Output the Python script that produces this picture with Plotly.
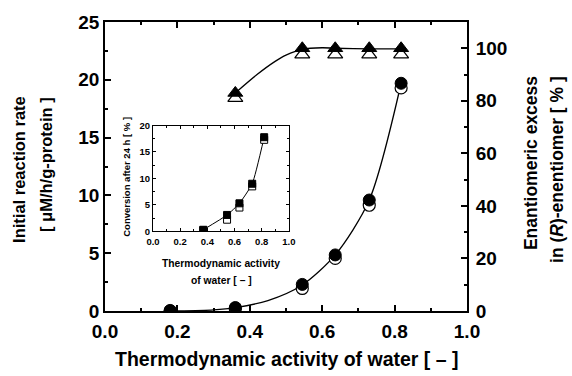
import plotly.graph_objects as go

# Main plot data
aw = [0.18, 0.36, 0.545, 0.636, 0.73, 0.818]
rate_filled = [0.05, 0.3, 2.3, 4.85, 9.6, 19.7]
rate_open = [0.0, 0.2, 1.95, 4.55, 9.15, 19.3]
rate_fit_x = [0.20, 0.30, 0.36, 0.45, 0.545, 0.636, 0.73, 0.818]
rate_fit_y = [0.0, 0.1, 0.3, 0.9, 2.25, 4.85, 9.6, 19.7]

aw_ee = [0.36, 0.545, 0.636, 0.73, 0.818]
ee_filled = [83.0, 100.0, 100.0, 100.0, 100.0]
ee_open = [81.0, 97.6, 97.6, 97.6, 97.6]
ee_fit_x = [0.36, 0.42, 0.47, 0.50, 0.545, 0.60, 0.636, 0.73, 0.818]
ee_fit_y = [83.0, 90.0, 95.0, 97.4, 99.6, 100.2, 100.0, 99.8, 99.8]

# Inset data
aw_in = [0.37, 0.545, 0.636, 0.73, 0.818]
conv_filled = [0.3, 3.1, 5.3, 9.0, 17.8]
conv_open = [0.2, 2.2, 4.5, 8.5, 17.3]

FONT = "Liberation Sans"
fig = go.Figure()

# rate curve + markers
fig.add_trace(go.Scatter(x=rate_fit_x, y=rate_fit_y, mode="lines", line=dict(color="black", width=1.3, shape="spline", smoothing=0.8), xaxis="x", yaxis="y", showlegend=False))
fig.add_trace(go.Scatter(x=aw, y=rate_open, mode="markers", marker=dict(symbol="circle", size=12, color="white", line=dict(color="black", width=1.2)), xaxis="x", yaxis="y", showlegend=False))
fig.add_trace(go.Scatter(x=aw, y=rate_filled, mode="markers", marker=dict(symbol="circle", size=12, color="black", line=dict(color="black", width=1)), xaxis="x", yaxis="y", showlegend=False))

# ee curve + markers
fig.add_trace(go.Scatter(x=ee_fit_x, y=ee_fit_y, mode="lines", line=dict(color="black", width=1.3, shape="spline", smoothing=0.8), xaxis="x", yaxis="y2", showlegend=False))
fig.add_trace(go.Scatter(x=aw_ee, y=ee_open, mode="markers", marker=dict(symbol="triangle-up", size=13, color="white", line=dict(color="black", width=1.2)), xaxis="x", yaxis="y2", showlegend=False))
fig.add_trace(go.Scatter(x=aw_ee, y=ee_filled, mode="markers", marker=dict(symbol="triangle-up", size=13, color="black", line=dict(color="black", width=1)), xaxis="x", yaxis="y2", showlegend=False))

# inset
fig.add_trace(go.Scatter(x=aw_in, y=conv_filled, mode="lines", line=dict(color="black", width=1, shape="spline", smoothing=0.5), xaxis="x2", yaxis="y3", showlegend=False))
fig.add_trace(go.Scatter(x=aw_in, y=conv_open, mode="markers", marker=dict(symbol="square", size=7, color="white", line=dict(color="black", width=1)), xaxis="x2", yaxis="y3", showlegend=False))
fig.add_trace(go.Scatter(x=aw_in, y=conv_filled, mode="markers", marker=dict(symbol="square", size=7, color="black", line=dict(color="black", width=1)), xaxis="x2", yaxis="y3", showlegend=False))

tickfont_main = dict(family=FONT, size=19, color="black", weight="bold")
tickfont_in = dict(family=FONT, size=9.5, color="black", weight="bold")
common = dict(showgrid=False, zeroline=False, showline=True, linecolor="black", ticks="inside", tickcolor="black")

fig.update_layout(
    width=572, height=376,
    margin=dict(l=105, r=105, t=16, b=65),
    paper_bgcolor="white", plot_bgcolor="white",
    xaxis=dict(**common, domain=[0, 1], range=[0, 1], dtick=0.2, tick0=0, tickformat=".1f", linewidth=1.8, tickwidth=1.5, ticklen=6,
               minor=dict(dtick=0.1, ticklen=3, tickcolor="black", ticks="inside"), mirror="ticks", tickfont=tickfont_main, anchor="y",
               ticklabelstandoff=2),
    yaxis=dict(**common, domain=[0, 1], range=[0, 25], dtick=5, linewidth=1.8, tickwidth=1.5, ticklen=6,
               minor=dict(dtick=2.5, ticklen=3, tickcolor="black", ticks="inside"), tickfont=tickfont_main, anchor="x"),
    yaxis2=dict(**common, overlaying="y", side="right", range=[0, 110], tickvals=[0, 20, 40, 60, 80, 100], linewidth=1.8, tickwidth=1.5, ticklen=6,
                minor=dict(tickvals=[10, 30, 50, 70, 90, 110], ticklen=3, tickcolor="black", ticks="inside"), tickfont=tickfont_main, anchor="x",
                ticklabelstandoff=3),
    xaxis2=dict(**common, domain=[0.1326, 0.508], range=[0, 1], dtick=0.2, tick0=0, tickformat=".1f", linewidth=1, tickwidth=1, ticklen=3,
                minor=dict(dtick=0.1, ticklen=2, tickcolor="black", ticks="inside"), mirror="ticks", tickfont=tickfont_in, anchor="y3", ticklabelstandoff=1),
    yaxis3=dict(**common, domain=[0.2756, 0.6417], range=[0, 20], dtick=5, linewidth=1, tickwidth=1, ticklen=3,
                minor=dict(dtick=2.5, ticklen=2, tickcolor="black", ticks="inside"), mirror="ticks", tickfont=tickfont_in, anchor="x2"),
)

def px2paper(px, py):
    return (px - 105) / 362.0, (311 - py) / 295.0

def add_text(text, px, py, size, angle=0):
    x, y = px2paper(px, py)
    fig.add_annotation(text=text, x=x, y=y, xref="paper", yref="paper", showarrow=False, textangle=angle,
                       xanchor="center", yanchor="middle", font=dict(family=FONT, size=size, color="black", weight="bold"))

add_text("Initial reaction rate", 19, 167, 16.5, -90)
add_text("[ μM/h/g-protein ]", 46, 162, 16.5, -90)
add_text("Enantiomeric excess", 531, 160, 17.5, -90)
add_text("in (<i>R</i>)-enentiomer [ % ]", 557, 167, 17.5, -90)
add_text("Thermodynamic activity of water [ – ]", 287, 360, 19.5)
add_text("Conversion after 24 h [ % ]", 127, 174, 9.5, -90)
add_text("Thermodynamic activity", 221, 263, 10.3)
add_text("of water [ – ]", 221, 280, 10.3)

fig.write_html("out.html")
